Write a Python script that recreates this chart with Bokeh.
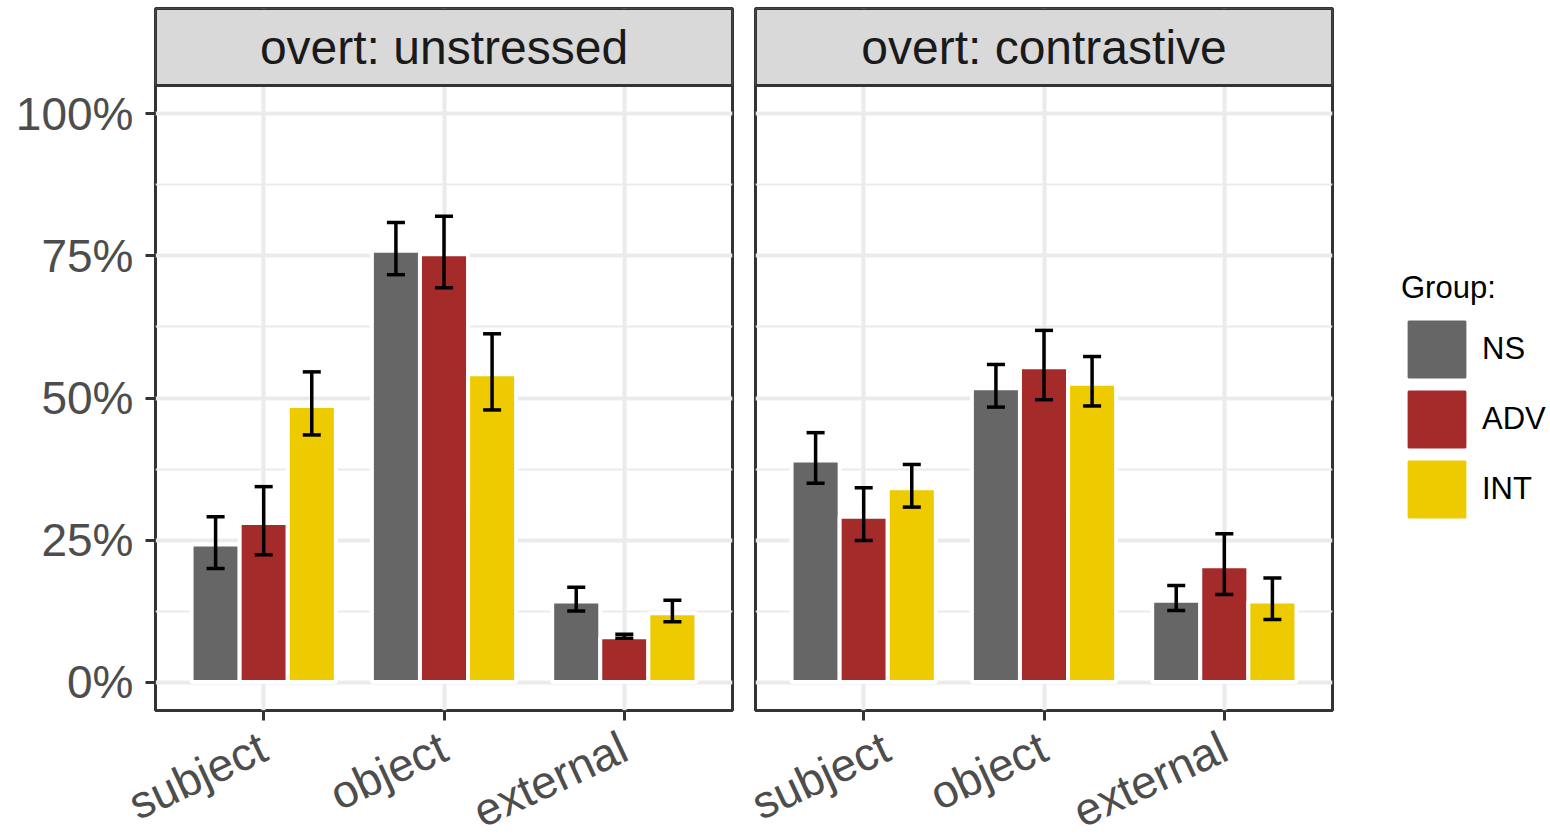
import math

from bokeh.core.properties import value
from bokeh.embed import file_html
from bokeh.layouts import row
from bokeh.models import (FixedTicker, Legend, LegendItem, NumeralTickFormatter,
                          Range1d)
from bokeh.plotting import figure
from bokeh.resources import INLINE

# ---- data -------------------------------------------------------------
positions = ["subject", "object", "external"]
groups = ["NS", "ADV", "INT"]
group_colors = ["#666666", "#a52a2a", "#eeca00"]
panel_titles = ["overt: unstressed", "overt: contrastive"]

# proportion of responses by group, one value per position
unstressed_mean = {"NS": [0.242, 0.759, 0.142],
                   "ADV": [0.280, 0.753, 0.079],
                   "INT": [0.486, 0.542, 0.121]}
unstressed_lo = {"NS": [0.200, 0.717, 0.125],
                 "ADV": [0.224, 0.694, 0.077],
                 "INT": [0.435, 0.479, 0.106]}
unstressed_hi = {"NS": [0.291, 0.809, 0.167],
                 "ADV": [0.344, 0.820, 0.084],
                 "INT": [0.546, 0.613, 0.144]}

contrastive_mean = {"NS": [0.390, 0.517, 0.143],
                    "ADV": [0.291, 0.554, 0.204],
                    "INT": [0.341, 0.525, 0.142]}
contrastive_lo = {"NS": [0.350, 0.484, 0.126],
                  "ADV": [0.249, 0.497, 0.154],
                  "INT": [0.308, 0.486, 0.110]}
contrastive_hi = {"NS": [0.439, 0.559, 0.170],
                  "ADV": [0.342, 0.619, 0.261],
                  "INT": [0.383, 0.573, 0.183]}

y_ticks = [0, 0.25, 0.5, 0.75, 1.0]
y_minor = [0.125, 0.375, 0.625, 0.875]

# ---- layout constants ---------------------------------------------------
FONT = "Liberation Sans"
FRAME_W = 577
FRAME_H = 702
STRIP_PX = 77
PANEL_PX = FRAME_H - STRIP_PX
Y_LO, Y_PANEL_HI = -0.05, 1.05
Y_HI = Y_PANEL_HI + STRIP_PX * (Y_PANEL_HI - Y_LO) / PANEL_PX
X_LO, X_HI = 0.4, 3.6
DODGE = 0.8 / 3
CAP = 0.1
GRID = "#ebebeb"
DARK = "#333333"


def make_panel(title, mean, lo, hi, first):
    p = figure(frame_width=FRAME_W, frame_height=FRAME_H,
               x_range=Range1d(X_LO, X_HI), y_range=Range1d(Y_LO, Y_HI),
               output_backend="svg", toolbar_location=None,
               min_border_top=8, min_border_bottom=125,
               min_border_left=155 if first else 12,
               min_border_right=11 if first else 218,
               background_fill_color="white", border_fill_color="white")
    p.outline_line_color = DARK
    p.outline_line_width = 3

    # axes
    p.xaxis.ticker = FixedTicker(ticks=[1, 2, 3])
    p.xaxis.major_label_overrides = {i + 1: name for i, name in enumerate(positions)}
    p.xaxis.major_label_orientation = math.radians(25)
    p.yaxis.ticker = FixedTicker(ticks=y_ticks, minor_ticks=y_minor)
    p.yaxis.formatter = NumeralTickFormatter(format="0%")
    for ax in (p.xaxis[0], p.yaxis[0]):
        ax.axis_line_color = None
        ax.major_tick_line_color = DARK
        ax.major_tick_line_width = 3
        ax.major_tick_in = 0
        ax.major_tick_out = 10
        ax.minor_tick_line_color = None
        ax.major_label_text_font = FONT
        ax.major_label_text_font_size = "46px"
        ax.major_label_text_color = "#4d4d4d"
    p.xaxis.major_label_standoff = 24
    p.yaxis.major_label_standoff = 12
    if not first:
        p.yaxis.visible = False

    # grid
    p.xgrid.grid_line_color = GRID
    p.xgrid.grid_line_width = 4
    p.ygrid.grid_line_color = GRID
    p.ygrid.grid_line_width = 4
    p.ygrid.minor_grid_line_color = GRID
    p.ygrid.minor_grid_line_width = 2

    # bars with error bars
    key_renderers = []
    for gi, g in enumerate(groups):
        xs = [i + 1 + (gi - 1) * DODGE for i in range(len(positions))]
        # solid-edged copy underneath: supplies the legend key
        key = p.vbar(x=xs, top=mean[g], bottom=0, width=DODGE,
                     fill_color=group_colors[gi], line_color=group_colors[gi], line_width=2)
        key_renderers.append(key)
        p.vbar(x=xs, top=mean[g], bottom=0, width=DODGE,
               fill_color=group_colors[gi], line_color="white", line_width=4)
        p.segment(x0=xs, x1=xs, y0=lo[g], y1=hi[g], line_color="black", line_width=3.5)
        left = [x - CAP / 2 for x in xs]
        right = [x + CAP / 2 for x in xs]
        p.segment(x0=left, x1=right, y0=lo[g], y1=lo[g], line_color="black", line_width=3.5)
        p.segment(x0=left, x1=right, y0=hi[g], y1=hi[g], line_color="black", line_width=3.5)

    # facet strip
    p.quad(left=[X_LO], right=[X_HI], bottom=[Y_PANEL_HI], top=[Y_HI],
           fill_color="#d9d9d9", line_color=DARK, line_width=3)
    p.text(x=[(X_LO + X_HI) / 2], y=[(Y_PANEL_HI + Y_HI) / 2], text=[title],
           text_font=value(FONT), text_font_size="48px", text_color="#1a1a1a",
           text_align="center", text_baseline="middle")
    return p, key_renderers


left, _ = make_panel(panel_titles[0], unstressed_mean, unstressed_lo, unstressed_hi, True)
right, keys = make_panel(panel_titles[1], contrastive_mean, contrastive_lo, contrastive_hi, False)

legend = Legend(items=[LegendItem(label=g, renderers=[r]) for g, r in zip(groups, keys)],
                title="Group:", location=(69, 186), orientation="vertical",
                glyph_width=71, glyph_height=70, spacing=0, label_standoff=10,
                padding=0, margin=0, border_line_color=None, background_fill_alpha=0,
                title_text_font=FONT, title_text_font_size="31px",
                title_text_font_style="normal", title_text_color="black",
                title_standoff=8,
                label_text_font=FONT, label_text_font_size="31px",
                label_text_color="black")
right.add_layout(legend, "right")

layout = row(left, right, spacing=0)
open("out.html", "w").write(file_html(layout, INLINE))
